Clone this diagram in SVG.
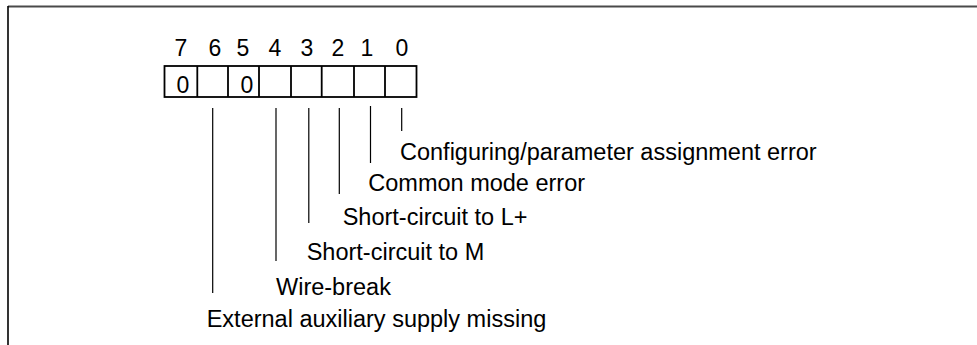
<svg xmlns="http://www.w3.org/2000/svg" width="977" height="345" viewBox="0 0 977 345">
<style>
text{font-family:"Liberation Sans",Arial,sans-serif;fill:#000}
.d{font-size:23px;text-anchor:middle}
.l{font-size:23.5px}
.c{stroke:#000;stroke-width:1.2;fill:none}
.b{stroke:#000;stroke-width:1.8;fill:#fff}
</style>
<rect width="977" height="345" fill="#fff"/>
<g id="frame">
<line x1="8" y1="6.5" x2="977" y2="6.5" stroke="#4a4a4a" stroke-width="2"/>
<line x1="8" y1="6" x2="8" y2="345" stroke="#000" stroke-width="1.6"/>
</g>
<g id="bitnumbers">
<text class="d" x="181" y="56">7</text>
<text class="d" x="215" y="56">6</text>
<text class="d" x="243" y="56">5</text>
<text class="d" x="275" y="56">4</text>
<text class="d" x="307" y="56">3</text>
<text class="d" x="338" y="56">2</text>
<text class="d" x="367" y="56">1</text>
<text class="d" x="402" y="56">0</text>
</g>
<g id="register">
<rect class="b" x="164.5" y="66" width="252" height="31"/>
<path class="b" d="M197.3 66V97M228 66V97M259 66V97M291 66V97M321.7 66V97M354 66V97M385 66V97"/>
<text class="d" x="183" y="92.5">0</text>
<text class="d" x="247" y="92.5">0</text>
</g>
<g id="connectors">
<line class="c" x1="401.7" y1="108" x2="401.7" y2="131"/>
<line class="c" x1="370.5" y1="106" x2="370.5" y2="163"/>
<line class="c" x1="339.3" y1="108" x2="339.3" y2="194"/>
<line class="c" x1="308.8" y1="108" x2="308.8" y2="223"/>
<line class="c" x1="276" y1="108" x2="276" y2="261"/>
<line class="c" x1="212.7" y1="108" x2="212.7" y2="293"/>
</g>
<g id="bit0"><text class="l" x="400" y="160">Configuring/parameter assignment error</text></g>
<g id="bit1"><text class="l" x="368.3" y="191">Common mode error</text></g>
<g id="bit2"><text class="l" x="342.7" y="225">Short-circuit to L+</text></g>
<g id="bit3"><text class="l" x="306.7" y="260">Short-circuit to M</text></g>
<g id="bit4"><text class="l" x="276" y="295">Wire-break</text></g>
<g id="bit6"><text class="l" x="206.7" y="327">External auxiliary supply missing</text></g>
</svg>
